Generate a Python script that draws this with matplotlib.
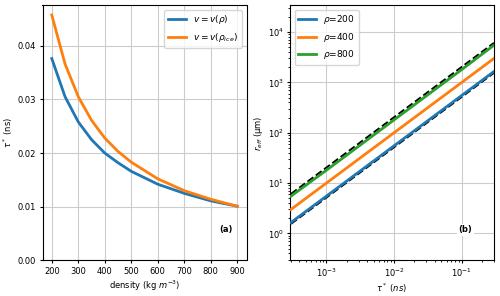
import matplotlib
matplotlib.use('Agg')
import matplotlib.pyplot as plt

# panel (a): tau* vs density
density = [200, 250, 300, 350, 400, 450, 500, 600, 700, 800, 900]
tau_rho = [0.0376, 0.0305, 0.0258, 0.0225, 0.0200, 0.0182, 0.0166, 0.0142, 0.0125, 0.0111, 0.0101]
tau_ice = [0.0457, 0.0366, 0.0305, 0.0261, 0.0228, 0.0203, 0.0183, 0.0152, 0.0130, 0.0114, 0.0101]

# panel (b): r_eff vs tau*
tau = [3e-4, 1e-3, 1e-2, 1e-1, 3e-1]
reff_200 = [1.65, 5.5, 55, 550, 1650]
reff_400 = [3.0, 10, 100, 1000, 3000]
reff_800 = [5.5, 18, 180, 1800, 5500]
ref_hi = [6.1, 20.3, 203, 2030, 6100]
ref_lo = [1.55, 5.15, 51.5, 515, 1550]

plt.rcParams['font.size'] = 6
plt.rcParams['axes.labelpad'] = 2
for a in ('xtick', 'ytick'):
    plt.rcParams[a + '.major.size'] = 2.5
    plt.rcParams[a + '.minor.size'] = 1.5
    plt.rcParams[a + '.major.pad'] = 2

fig = plt.figure(figsize=(5, 2.96), dpi=100)
ax1 = fig.add_axes([0.085, 0.12, 0.408, 0.862])
ax2 = fig.add_axes([0.58, 0.12, 0.408, 0.862])

ax1.plot(density, tau_rho, color='C0', linewidth=2, label=r'$v=v(\rho)$')
ax1.plot(density, tau_ice, color='C1', linewidth=2, label=r'$v=v(\rho_{ice})$')
ax1.set_ylim(0, 0.0475)
ax1.set_xticks([200, 300, 400, 500, 600, 700, 800, 900])
ax1.set_xlabel(r'density (kg $m^{-3}$)')
ax1.set_ylabel(r'$\tau^*$ (ns)')
ax1.grid(True, color='#cccccc')
ax1.legend(loc='upper right', fontsize=6.5)
ax1.text(0.9, 0.12, '(a)', transform=ax1.transAxes, fontweight='bold', ha='center', va='center',
         bbox=dict(facecolor='white', edgecolor='none', pad=1))

ax2.plot(tau, ref_hi, color='black', linestyle='--', linewidth=1.4, zorder=2)
ax2.plot(tau, ref_lo, color='black', linestyle='--', linewidth=1.4, zorder=2)
ax2.plot(tau, reff_200, color='C0', linewidth=2, label=r'$\rho$=200', zorder=3)
ax2.plot(tau, reff_400, color='C1', linewidth=2, label=r'$\rho$=400', zorder=3)
ax2.plot(tau, reff_800, color='C2', linewidth=2, label=r'$\rho$=800', zorder=3)
ax2.set_xscale('log')
ax2.set_yscale('log')
ax2.set_xlim(2.9e-4, 0.3)
ax2.set_ylim(0.29, 3.4e4)
ax2.set_xlabel(r'$\tau^*$ $(ns)$')
ax2.set_ylabel(r'$r_{eff}$ (µm)')
ax2.grid(True, color='#cccccc')
ax2.legend(loc='upper left', fontsize=6.5)
ax2.text(0.86, 0.12, '(b)', transform=ax2.transAxes, fontweight='bold', ha='center', va='center',
         bbox=dict(facecolor='white', edgecolor='none', pad=1))

fig.savefig('out.png', dpi=100)
